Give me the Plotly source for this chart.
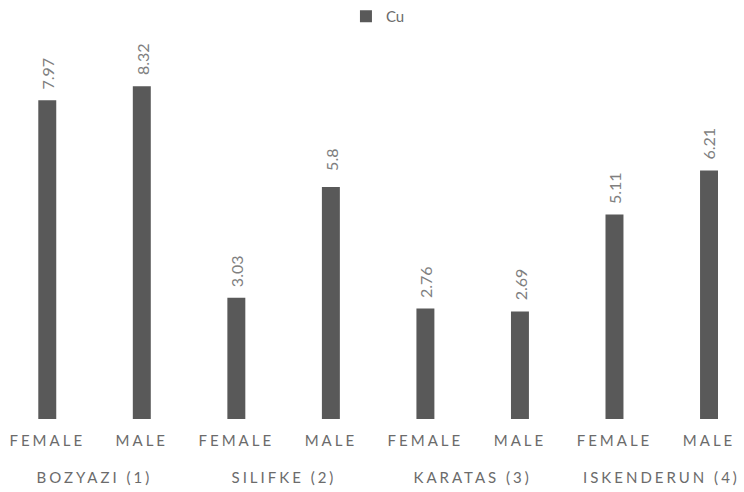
import plotly.graph_objects as go

sites = ["BOZYAZI (1)", "SILIFKE (2)", "KARATAS (3)", "ISKENDERUN (4)"]
genders = ["FEMALE", "MALE", "FEMALE", "MALE", "FEMALE", "MALE", "FEMALE", "MALE"]
cu = [7.97, 8.32, 3.03, 5.80, 2.76, 2.69, 5.11, 6.21]
cu_labels = ["7.97", "8.32", "3.03", "5.8", "2.76", "2.69", "5.11", "6.21"]

xpos = list(range(len(cu)))
FONT = "Lato, 'Open Sans', sans-serif"
TXT = "#6b6b6b"
BAR = "#595959"

fig = go.Figure()
fig.add_trace(go.Bar(
    x=xpos, y=cu, name="Cu", width=0.19,
    marker=dict(color=BAR, line=dict(width=0)),
))

annotations = []
# group labels (second level)
for i, s in enumerate(sites):
    annotations.append(dict(
        x=2 * i + 0.5, y=0, xref="x", yref="paper", text=s, showarrow=False,
        xanchor="center", yanchor="middle", yshift=-58,
        font=dict(family=FONT, size=15, color=TXT),
    ))
# value labels
for x, v, t in zip(xpos, cu, cu_labels):
    annotations.append(dict(
        x=x, y=v, xref="x", yref="y", text=t, showarrow=False, textangle=-90,
        xanchor="center", yanchor="middle", yshift=27,
        font=dict(family=FONT, size=16, color="#7f7f7f"),
    ))

fig.update_layout(
    width=744, height=492,
    margin=dict(l=0, r=0, t=79, b=73),
    paper_bgcolor="white", plot_bgcolor="white",
    showlegend=True,
    legend=dict(orientation="h", x=0.508, xanchor="center", y=1.0, yref="container",
                yanchor="top", font=dict(family=FONT, size=15, color=TXT),
                itemwidth=30),
    xaxis=dict(range=[-0.5, 7.37], tickmode="array", tickvals=xpos, ticktext=genders,
               showgrid=False, zeroline=False, showline=False,
               ticks="outside", ticklen=8, tickcolor="rgba(0,0,0,0)",
               tickfont=dict(family=FONT, size=15, color=TXT), tickangle=0),
    yaxis=dict(range=[0, 8.5], visible=False, showgrid=False, zeroline=False),
    annotations=annotations,
    font=dict(family=FONT),
)

post = """
var gd = document.getElementById('{plot_id}');
function spaceOut(){
  gd.querySelectorAll('.xtick text').forEach(function(t){ t.style.letterSpacing='3px'; });
  for (var i=0;i<4;i++){
    var a = gd.querySelector('.annotation[data-index="'+i+'"] text');
    if (a) a.style.letterSpacing='3px';
  }
}
spaceOut();
gd.on('plotly_afterplot', spaceOut);
"""
fig.write_html("out.html", post_script=post)
